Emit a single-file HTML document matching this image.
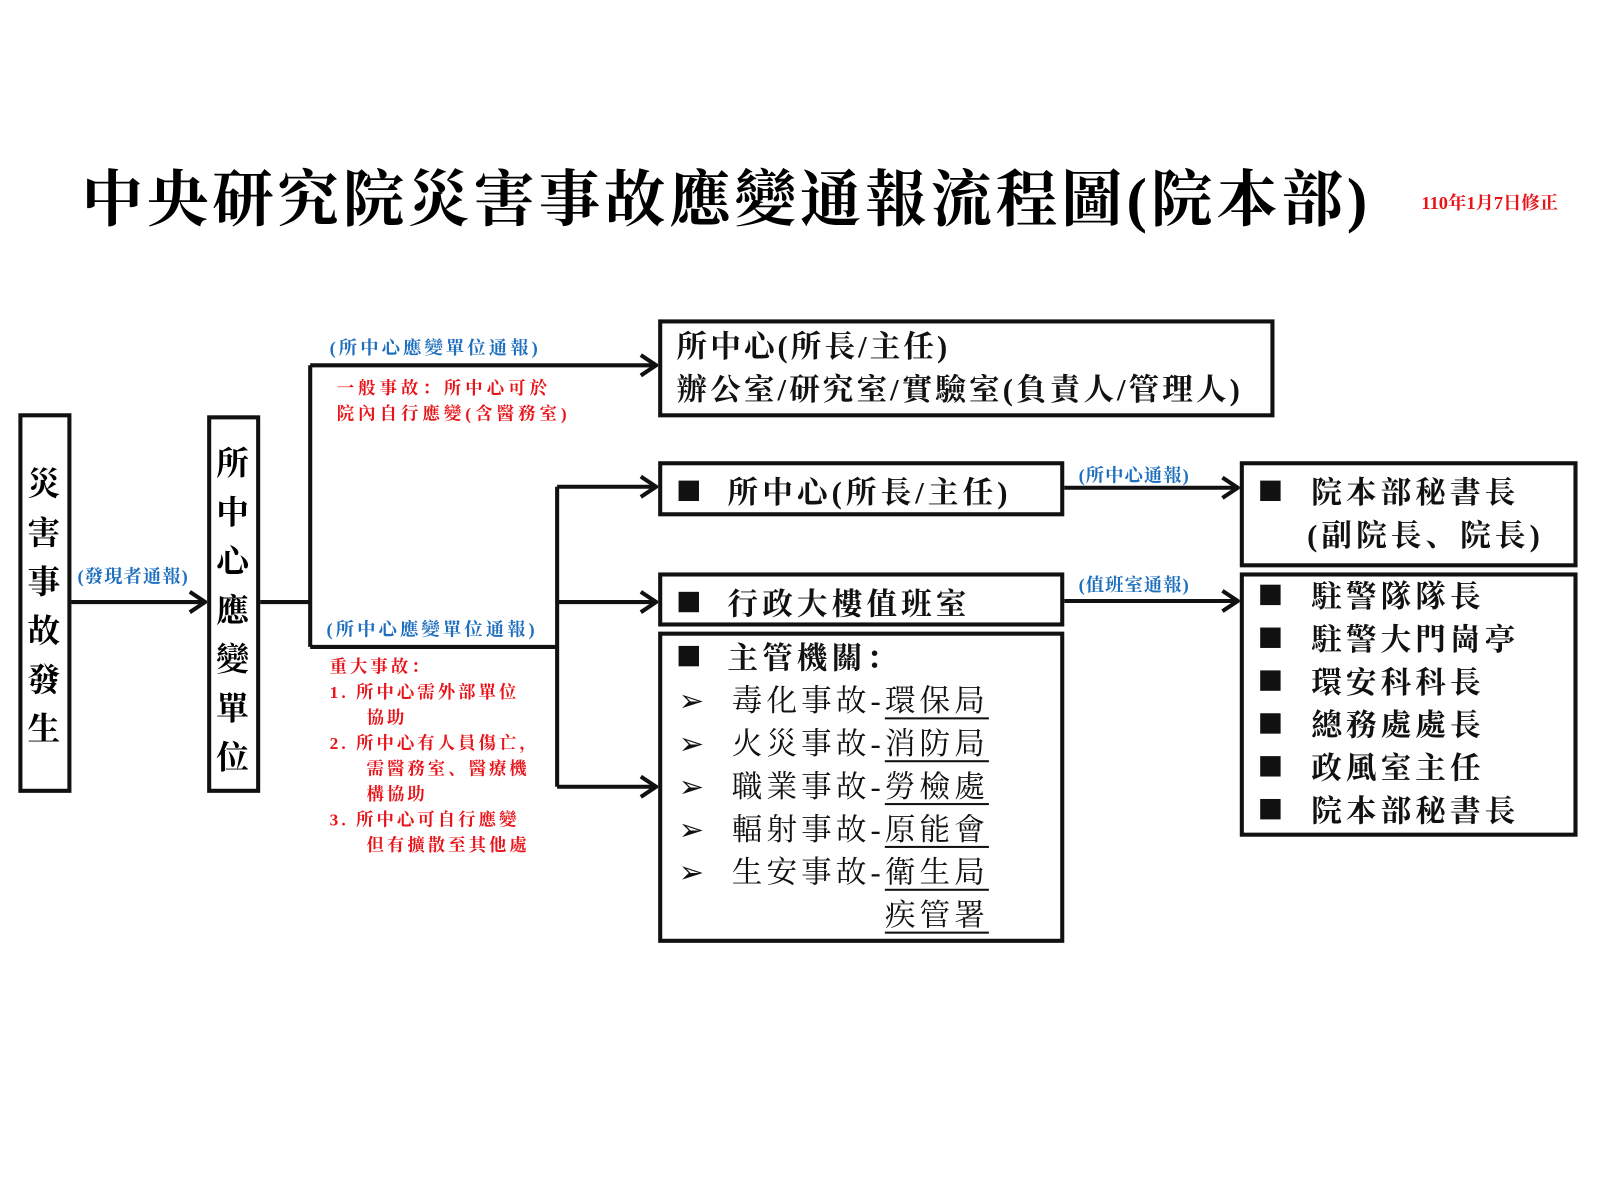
<!DOCTYPE html>
<html><head><meta charset="utf-8"><style>
body{margin:0;width:1600px;height:1200px;background:#fff;position:relative;overflow:hidden;font-family:"Liberation Serif","Noto Serif CJK SC","Noto Sans CJK TC",serif;}
#w{position:absolute;left:0;top:0;width:1568px;height:1176px;transform:scale(1.0204);transform-origin:0 0;}
.a{position:absolute;white-space:nowrap;}
.box{position:absolute;border:4px solid #111;box-sizing:border-box;background:#fff;}
.blue{color:#1f6fbf;font-weight:bold;font-size:18px;letter-spacing:3px;}
.red{color:#e8141a;font-weight:bold;font-size:17px;line-height:25px;letter-spacing:4px;}
.t{font-weight:bold;font-size:30px;color:#111;letter-spacing:4px;}
.v{position:absolute;font-weight:bold;font-size:32px;line-height:48px;width:50px;text-align:center;}
.sq{display:inline-block;width:20px;height:20px;background:#111;margin-right:28px;vertical-align:2px;}
.u{text-decoration:underline;text-underline-offset:6px;text-decoration-thickness:2px;}
</style></head><body><div id="w">
<div class="a" style="left:80px;top:148px;font-size:60px;letter-spacing:4px;font-weight:bold;-webkit-text-stroke:0;">中央研究院災害事故應變通報流程圖(院本部)</div>
<div class="a" style="left:1393px;top:185px;font-size:18px;color:#e8141a;font-weight:bold;">110年1月7日修正</div>

<svg style="position:absolute;left:0;top:0" width="1568" height="1176">
<g stroke="#111" stroke-width="4" fill="none" stroke-linejoin="miter">
<path d="M68 590H200M253 590H304M304 358V634M304 358H642M304 634H546M546 477V771M546 477H642M546 590H642M546 771H642M1041 478H1212M1041 589H1212"/>
<path d="M628 348L643 358L628 368M628 467L643 477L628 487M628 580L643 590L628 600M628 761L643 771L628 781M186 580L201 590L186 600M1198 468L1213 478L1198 488M1198 579L1213 589L1198 599"/>
</g></svg>

<div class="box" style="left:18px;top:405px;width:52px;height:372px;"></div>
<div class="v" style="left:18px;top:450px;">災<br>害<br>事<br>故<br>發<br>生</div>
<div class="box" style="left:203px;top:407px;width:52px;height:370px;"></div>
<div class="v" style="left:203px;top:430px;">所<br>中<br>心<br>應<br>變<br>單<br>位</div>

<div class="a blue" style="left:76px;top:551px;letter-spacing:1px;">(發現者通報)</div>
<div class="a blue" style="left:323px;top:327px;">(所中心應變單位通報)</div>
<div class="a blue" style="left:320px;top:603px;">(所中心應變單位通報)</div>
<div class="a blue" style="left:1057px;top:452px;letter-spacing:1px;">(所中心通報)</div>
<div class="a blue" style="left:1057px;top:559px;letter-spacing:1px;">(值班室通報)</div>

<div class="a red" style="left:330px;top:368px;">一般事故：所中心可於<br>院內自行應變(含醫務室)</div>
<div class="a red" style="left:323px;top:641px;letter-spacing:3px;">重大事故：<br>1.&nbsp;所中心需外部單位<br>&nbsp;&nbsp;&nbsp;&nbsp;&nbsp;協助<br>2.&nbsp;所中心有人員傷亡，<br>&nbsp;&nbsp;&nbsp;&nbsp;&nbsp;需醫務室、醫療機<br>&nbsp;&nbsp;&nbsp;&nbsp;&nbsp;構協助<br>3.&nbsp;所中心可自行應變<br>&nbsp;&nbsp;&nbsp;&nbsp;&nbsp;但有擴散至其他處</div>

<div class="box" style="left:645px;top:313px;width:604px;height:96px;"></div>
<div class="a t" style="left:663px;top:320px;line-height:42px;letter-spacing:3px;">所中心(所長/主任)<br>辦公室/研究室/實驗室(負責人/管理人)</div>

<div class="box" style="left:645px;top:452px;width:398px;height:54px;"></div>
<div class="a t" style="left:665px;top:458px;"><span class="sq"></span>所中心(所長/主任)</div>
<div class="box" style="left:645px;top:561px;width:398px;height:53px;"></div>
<div class="a t" style="left:665px;top:567px;"><span class="sq"></span>行政大樓值班室</div>
<div class="box" style="left:645px;top:619px;width:398px;height:305px;"></div>
<div class="a t" style="left:665px;top:625px;line-height:42px;"><span class="sq"></span>主管機關：</div>
<div class="a" style="left:665px;top:667px;font-size:30px;line-height:42px;color:#111;letter-spacing:4px;">
➢&nbsp;&nbsp;毒化事故-<span class="u">環保局</span><br>➢&nbsp;&nbsp;火災事故-<span class="u">消防局</span><br>➢&nbsp;&nbsp;職業事故-<span class="u">勞檢處</span><br>➢&nbsp;&nbsp;輻射事故-<span class="u">原能會</span><br>➢&nbsp;&nbsp;生安事故-<span class="u">衛生局</span><br><span style="visibility:hidden">➢&nbsp;&nbsp;生安事故-</span><span class="u">疾管署</span></div>

<div class="box" style="left:1215px;top:452px;width:331px;height:104px;"></div>
<div class="a t" style="left:1235px;top:463px;line-height:42px;"><span class="sq" style="margin-right:30px"></span>院本部秘書長<br><span style="margin-left:46px">(副院長、院長)</span></div>
<div class="box" style="left:1215px;top:561px;width:331px;height:259px;"></div>
<div class="a t" style="left:1235px;top:565px;line-height:42px;"><span class="sq" style="margin-right:30px"></span>駐警隊隊長<br><span class="sq" style="margin-right:30px"></span>駐警大門崗亭<br><span class="sq" style="margin-right:30px"></span>環安科科長<br><span class="sq" style="margin-right:30px"></span>總務處處長<br><span class="sq" style="margin-right:30px"></span>政風室主任<br><span class="sq" style="margin-right:30px"></span>院本部秘書長</div>
</div></body></html>
